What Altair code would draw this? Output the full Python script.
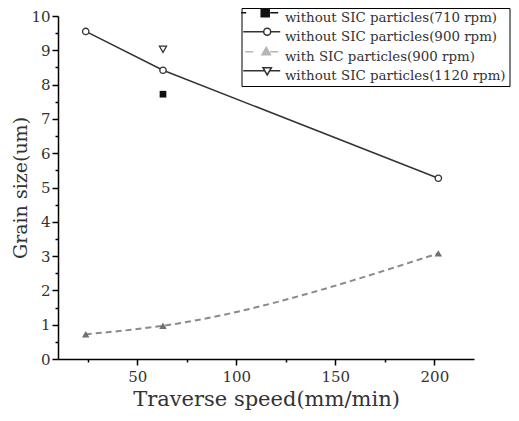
import altair as alt
import pandas as pd

# ---- data ----
speed_900 = [24, 63, 202]
grain_900_without = [9.55, 8.42, 5.27]
grain_900_with = [0.72, 0.97, 3.08]
speed_710 = [63]
grain_710 = [7.72]
speed_1120 = [63]
grain_1120 = [9.03]

series_names = [
    "without SIC particles(710 rpm)",
    "without SIC particles(900 rpm)",
    "with SIC particles(900 rpm)",
    "without SIC particles(1120 rpm)",
]

x_ticks = [25, 50, 75, 100, 125, 150, 175, 200]
y_ticks = [i / 2 for i in range(0, 21)]

rows = []
for s, g in zip(speed_710, grain_710):
    rows.append({"speed": s, "grain": g, "series": series_names[0]})
for s, g in zip(speed_900, grain_900_without):
    rows.append({"speed": s, "grain": g, "series": series_names[1]})
for s, g in zip(speed_900, grain_900_with):
    rows.append({"speed": s, "grain": g, "series": series_names[2]})
for s, g in zip(speed_1120, grain_1120):
    rows.append({"speed": s, "grain": g, "series": series_names[3]})
df = pd.DataFrame(rows)

FONT = "DejaVu Serif"
TEXT = "#333333"

x_enc = alt.X(
    "speed:Q",
    title="Traverse speed(mm/min)",
    scale=alt.Scale(domain=[10, 220], nice=False, zero=False),
    axis=alt.Axis(
        values=x_ticks,
        labelExpr="datum.value % 50 === 0 ? format(datum.value, 'd') : ''",
        tickSize={"condition": {"test": "datum.value % 50 === 0", "value": 6}, "value": 3},
        labelPadding=4,
        titlePadding=4,
        labelFont=FONT,
        titleFont=FONT,
    ),
)
y_enc = alt.Y(
    "grain:Q",
    title="Grain size(um)",
    scale=alt.Scale(domain=[0, 10], nice=False),
    axis=alt.Axis(
        values=y_ticks,
        labelExpr="datum.value % 1 === 0 ? format(datum.value, 'd') : ''",
        tickSize={"condition": {"test": "datum.value % 1 === 0", "value": 6}, "value": 3},
        labelPadding=2,
        titlePadding=0,
        titleFontSize=19,
        labelFont=FONT,
        titleFont=FONT,
    ),
)

base = alt.Chart(df)

line_without = base.transform_filter(
    alt.datum.series == series_names[1]
).mark_line(color="#333333", strokeWidth=1.5).encode(x=x_enc, y=y_enc)

line_with = base.transform_filter(
    alt.datum.series == series_names[2]
).mark_line(color="#8a8a8a", strokeWidth=2, strokeDash=[6, 4], interpolate="monotone").encode(x=x_enc, y=y_enc)

pts_with = base.transform_filter(
    alt.datum.series == series_names[2]
).mark_point(shape="triangle-up", filled=True, color="#6f6f6f", size=55, opacity=1).encode(x=x_enc, y=y_enc)

pts_without = base.transform_filter(
    alt.datum.series == series_names[1]
).mark_point(shape="circle", fill="white", stroke="#333333", strokeWidth=1.3, size=40, opacity=1, fillOpacity=1).encode(x=x_enc, y=y_enc)

pts_710 = base.transform_filter(
    alt.datum.series == series_names[0]
).mark_point(shape="square", filled=True, color="#111111", size=45, opacity=1).encode(x=x_enc, y=y_enc)

pts_1120 = base.transform_filter(
    alt.datum.series == series_names[3]
).mark_point(shape="triangle-down", fill="white", stroke="#333333", strokeWidth=1.3, size=50, opacity=1, fillOpacity=1).encode(x=x_enc, y=y_enc)

# legend glyphs (line segment + marker), unit = 2 px, raised so labels sit lower
legend_paths = [
    "M-5,-2.5L-2.5,-2.5M5,-4.5L9,-4.5L9,-0.5L5,-0.5ZM9.5,-2.5L13.5,-2.5",
    "M-4,-2.5L6.25,-2.5M9.75,-2.5L14.5,-2.5M6.25,-2.5A1.75,1.75 0 1,1 9.75,-2.5A1.75,1.75 0 1,1 6.25,-2.5Z",
    "M-3,-2.5L1,-2.5M7.5,-4.6L9.6,-1L5.4,-1ZM9.5,-2.5L13.5,-2.5",
    "M-4,-2.5L6.8,-2.5M9.2,-2.5L14.5,-2.5M5.9,-4L10.1,-4L8,-0.4Z",
]
legend_strokes = ["#111111", "#333333", "#b5b5b5", "#333333"]
legend_fills = ["#111111", "#ffffff", "#b5b5b5", "#ffffff"]

leg = alt.Legend(
    title=None,
    orient="none",
    legendX=183.5,
    legendY=-8,
    strokeColor="black",
    fillColor="white",
    padding=3,
    symbolSize=16,
    symbolStrokeWidth=1.5,
    symbolOpacity=1,
    labelFont=FONT,
    labelFontSize=13.4,
    labelColor=TEXT,
    labelLimit=400,
    labelOffset=27,
    labelBaseline="middle",
    rowPadding=0,
)

legend_layer = base.mark_point(opacity=0).encode(
    x=x_enc,
    y=y_enc,
    shape=alt.Shape("series:N", scale=alt.Scale(domain=series_names, range=legend_paths), legend=leg),
    stroke=alt.Stroke("series:N", scale=alt.Scale(domain=series_names, range=legend_strokes), legend=leg),
    fill=alt.Fill("series:N", scale=alt.Scale(domain=series_names, range=legend_fills), legend=leg),
)

chart = alt.layer(
    line_without, line_with, pts_with, pts_without, pts_710, pts_1120, legend_layer
).properties(
    width=416,
    height=343,
    autosize=alt.AutoSizeParams(type="none"),
    padding={"left": 50, "top": 8, "right": 36.5, "bottom": 52},
    background="white",
).configure_view(
    stroke=None
).configure_axis(
    grid=False,
    domainColor="black",
    domainWidth=1.5,
    tickColor="black",
    tickWidth=1.5,
    labelFont=FONT,
    labelFontSize=15,
    labelColor=TEXT,
    titleFont=FONT,
    titleFontSize=21,
    titleFontWeight="normal",
    titleColor=TEXT,
)

chart.save("out.html", embed_options={"renderer": "svg", "actions": False})
